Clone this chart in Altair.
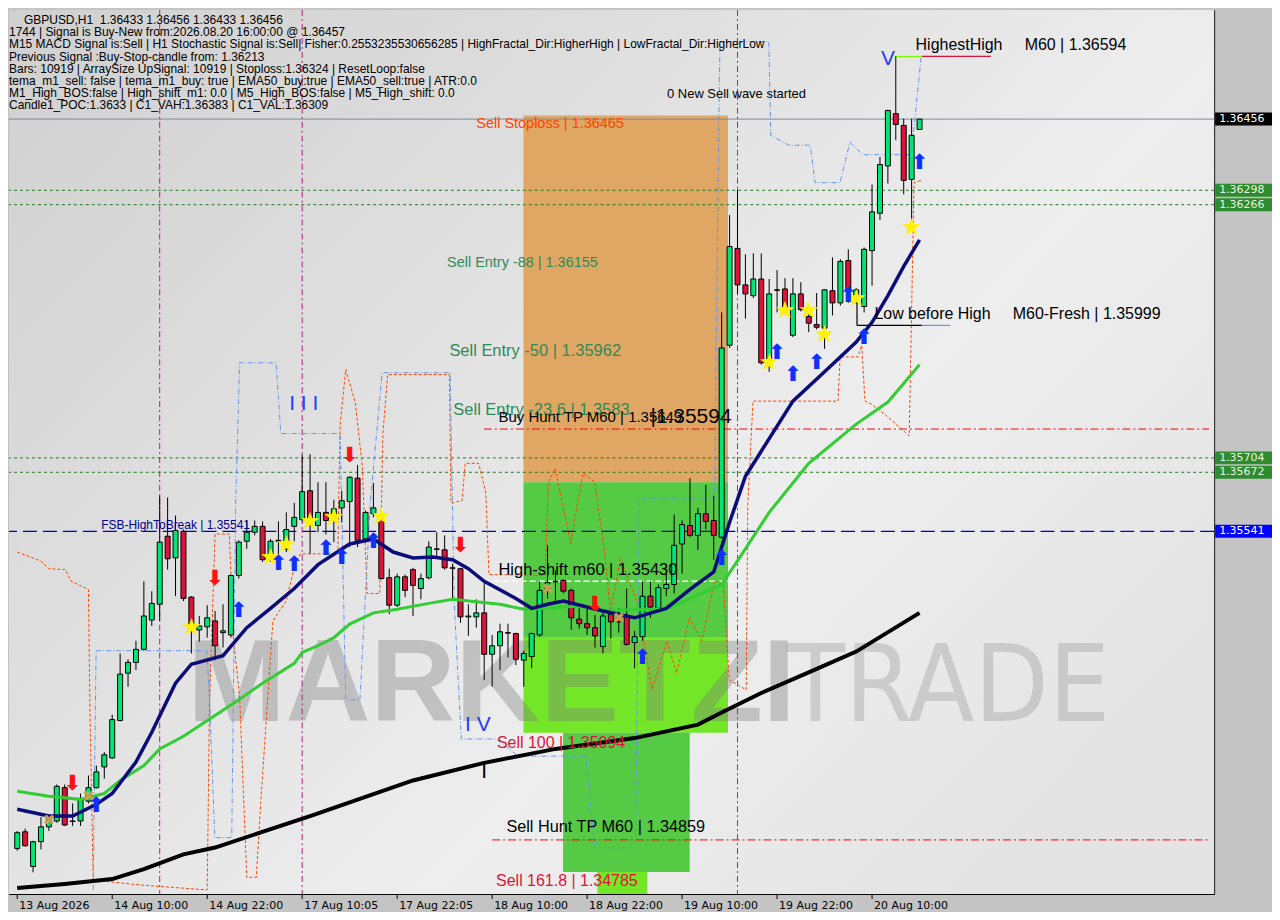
import altair as alt
import pandas as pd

W, H = 1208, 886
X_DOMAIN = [-0.41, 150.59]
Y_DOMAIN = [1.34736, 1.36698]
NB = "\u00a0"

# ---------------- H1 candles (index 0 = 13 Aug 22:00) ----------------
opens = [1.34837, 1.34874, 1.34797, 1.34852, 1.34885, 1.34898, 1.34972, 1.34898, 1.34898, 1.34942,
         1.34972, 1.35018, 1.35038, 1.35121, 1.35226, 1.35250, 1.35279, 1.35344, 1.35379, 1.35530,
         1.35482, 1.35541, 1.35395, 1.35322, 1.35329, 1.35342, 1.35316, 1.35311, 1.35443, 1.35519,
         1.35539, 1.35552, 1.35480, 1.35521, 1.35502, 1.35552, 1.35567, 1.35631, 1.35554, 1.35583,
         1.35576, 1.35593, 1.35607, 1.35659, 1.35524, 1.35580, 1.35572, 1.35438, 1.35377, 1.35440,
         1.35456, 1.35414, 1.35438, 1.35502, 1.35500, 1.35460, 1.35458, 1.35351, 1.35351, 1.35360,
         1.35268, 1.35287, 1.35316, 1.35314, 1.35255, 1.35263, 1.35311, 1.35414, 1.35430, 1.35432,
         1.35410, 1.35346, 1.35336, 1.35327, 1.35285, 1.35357, 1.35349, 1.35351, 1.35294, 1.35307,
         1.35397, 1.35370, 1.35414, 1.35423, 1.35513, 1.35554, 1.35532, 1.35580, 1.35565, 1.35528,
         1.35954, 1.36169, 1.36088, 1.36064, 1.36101, 1.35915, 1.36077, 1.36079, 1.35976, 1.36068,
         1.36018, 1.36000, 1.35992, 1.36075, 1.36048, 1.36142, 1.36057, 1.36040, 1.36164, 1.36247,
         1.36352, 1.36468, 1.36442, 1.36322, 1.36433]
highs = [1.34876, 1.34881, 1.34854, 1.34907, 1.34909, 1.34979, 1.34979, 1.34937, 1.34959, 1.34999,
         1.35021, 1.35051, 1.35134, 1.35270, 1.35257, 1.35298, 1.35430, 1.35408, 1.35620, 1.35616,
         1.35576, 1.35545, 1.35397, 1.35353, 1.35377, 1.35364, 1.35379, 1.35445, 1.35521, 1.35565,
         1.35565, 1.35563, 1.35524, 1.35563, 1.35583, 1.35604, 1.35712, 1.35712, 1.35650, 1.35650,
         1.35611, 1.35631, 1.35663, 1.35688, 1.35587, 1.35648, 1.35589, 1.35458, 1.35447, 1.35445,
         1.35460, 1.35447, 1.35519, 1.35539, 1.35532, 1.35469, 1.35460, 1.35379, 1.35390, 1.35430,
         1.35311, 1.35336, 1.35336, 1.35316, 1.35276, 1.35316, 1.35430, 1.35510, 1.35454, 1.35434,
         1.35414, 1.35370, 1.35373, 1.35355, 1.35360, 1.35360, 1.35370, 1.35414, 1.35320, 1.35430,
         1.35430, 1.35423, 1.35458, 1.35578, 1.35565, 1.35659, 1.35593, 1.35644, 1.35620, 1.36027,
         1.36243, 1.36300, 1.36156, 1.36158, 1.36158, 1.36101, 1.36121, 1.36103, 1.36103, 1.36094,
         1.36033, 1.36070, 1.36079, 1.36149, 1.36145, 1.36167, 1.36081, 1.36171, 1.36311, 1.36372,
         1.36477, 1.36595, 1.36457, 1.36457, 1.36456]
lows = [1.34832, 1.34841, 1.34784, 1.34835, 1.34876, 1.34894, 1.34887, 1.34887, 1.34887, 1.34937,
        1.34970, 1.34992, 1.35036, 1.35119, 1.35196, 1.35233, 1.35276, 1.35331, 1.35342, 1.35456,
        1.35397, 1.35386, 1.35270, 1.35296, 1.35305, 1.35255, 1.35283, 1.35305, 1.35436, 1.35502,
        1.35532, 1.35473, 1.35473, 1.35480, 1.35495, 1.35517, 1.35561, 1.35491, 1.35539, 1.35534,
        1.35517, 1.35561, 1.35506, 1.35506, 1.35517, 1.35572, 1.35434, 1.35357, 1.35373, 1.35395,
        1.35353, 1.35390, 1.35434, 1.35484, 1.35456, 1.35392, 1.35338, 1.35309, 1.35327, 1.35211,
        1.35196, 1.35233, 1.35261, 1.35244, 1.35196, 1.35237, 1.35307, 1.35392, 1.35381, 1.35403,
        1.35322, 1.35325, 1.35311, 1.35283, 1.35270, 1.35303, 1.35316, 1.35287, 1.35237, 1.35298,
        1.35349, 1.35364, 1.35397, 1.35403, 1.35447, 1.35528, 1.35500, 1.35545, 1.35478, 1.35524,
        1.35948, 1.36068, 1.36013, 1.36059, 1.35911, 1.35895, 1.36027, 1.36029, 1.35972, 1.36029,
        1.35983, 1.35989, 1.35946, 1.36020, 1.36042, 1.36048, 1.36046, 1.36027, 1.36086, 1.36232,
        1.36313, 1.36409, 1.36289, 1.36221, 1.36433]
closes = [1.34872, 1.34843, 1.34852, 1.34885, 1.34905, 1.34975, 1.34889, 1.34897, 1.34948, 1.34972,
          1.35007, 1.35045, 1.35123, 1.35224, 1.35250, 1.35279, 1.35353, 1.35381, 1.35517, 1.35480,
          1.35543, 1.35392, 1.35327, 1.35331, 1.35349, 1.35287, 1.35320, 1.35443, 1.35517, 1.35539,
          1.35552, 1.35478, 1.35519, 1.35519, 1.35545, 1.35572, 1.35629, 1.35563, 1.35583, 1.35565,
          1.35591, 1.35609, 1.35661, 1.35521, 1.35583, 1.35593, 1.35436, 1.35377, 1.35440, 1.35410,
          1.35421, 1.35436, 1.35506, 1.35501, 1.35460, 1.35459, 1.35351, 1.35353, 1.35360, 1.35268,
          1.35287, 1.35318, 1.35315, 1.35257, 1.35270, 1.35314, 1.35410, 1.35427, 1.35429, 1.35408,
          1.35349, 1.35336, 1.35327, 1.35309, 1.35353, 1.35340, 1.35340, 1.35290, 1.35307, 1.35397,
          1.35373, 1.35416, 1.35423, 1.35510, 1.35556, 1.35532, 1.35580, 1.35563, 1.35532, 1.35948,
          1.36173, 1.36088, 1.36068, 1.36101, 1.35915, 1.36068, 1.36076, 1.36033, 1.36068, 1.36033,
          1.36003, 1.35994, 1.36077, 1.36048, 1.36140, 1.36075, 1.36077, 1.36167, 1.36250, 1.36355,
          1.36475, 1.36444, 1.36320, 1.36420, 1.36456]

# ---------------- moving averages (bar index, price) ----------------
fast_idx = [0, 4, 7, 10, 12, 15, 17, 20, 22, 26, 29, 32, 35, 38, 42, 45, 47.5, 50, 52.5, 55,
            57, 59, 63, 65, 67, 69, 72, 74, 78, 82, 85, 88, 90, 92, 98, 102, 106, 108, 110, 112, 114]
fast_val = [1.34924, 1.34909, 1.34909, 1.34935, 1.34959, 1.35029, 1.35095, 1.35204, 1.35246, 1.35265,
            1.35327, 1.35370, 1.35414, 1.35467, 1.35513, 1.35524, 1.35495, 1.35482, 1.35484, 1.35478,
            1.35458, 1.35430, 1.35392, 1.35370, 1.35379, 1.35386, 1.35373, 1.35364, 1.35349, 1.35370,
            1.35412, 1.35451, 1.35561, 1.35663, 1.35830, 1.35895, 1.35961, 1.36005, 1.36064, 1.36129,
            1.36188]
ema50_idx = [0, 4, 8, 11, 13, 16, 18, 21, 28, 31, 35, 36, 38, 40, 42, 45, 48, 52, 55, 61,
             64, 67, 71, 74, 82, 89, 92, 95, 100, 106, 110, 114]
ema50_val = [1.34964, 1.34953, 1.34946, 1.34959, 1.34988, 1.35021, 1.35058, 1.35086, 1.35167, 1.35204,
             1.35248, 1.35272, 1.35287, 1.35305, 1.35335, 1.35360, 1.35368, 1.35381, 1.35390, 1.35379,
             1.35368, 1.35370, 1.35375, 1.35366, 1.35368, 1.35423, 1.35502, 1.35583, 1.35692, 1.35779,
             1.35828, 1.35911]
slow_idx = [0, 6, 12, 16, 21, 25, 37, 50, 59, 68, 78, 86, 89, 94, 100, 106, 114]
slow_val = [1.34749, 1.34758, 1.34769, 1.34791, 1.34824, 1.34839, 1.34909, 1.34988, 1.35027, 1.35058,
            1.35082, 1.35112, 1.35139, 1.35182, 1.35228, 1.35274, 1.35360]

# ---------------- channel traces ----------------
orange_i = [0, 3, 4, 6.1, 6.8, 9, 9.2, 9.6, 15.5, 24, 24.3, 25, 26.8, 27.3, 28.1, 29, 30.2, 30.8, 32.3, 33.95,
            35.2, 35.8, 40.5, 40.8, 41.5, 42.7, 43.6, 44.2, 45.8, 46.2, 46.8, 54.6, 54.8, 56.2, 56.6, 58.3, 59.2,
            59.6, 66.7, 67.1, 67.96, 69.2, 69.96, 70.5, 71.5, 72.96, 74.2, 74.96, 76.2, 78.3, 80.2, 82.1, 83.3,
            84.96, 86.5, 88.1, 89.2, 89.96, 92.1, 92.3, 92.96, 103.7, 103.96, 106.2, 106.7, 107.1, 107.96, 109.6,
            112.7, 113.3, 114.2]
orange_p = [1.35495, 1.35475, 1.35458, 1.35456, 1.35430, 1.35412, 1.35128, 1.34767, 1.34756, 1.34745,
            1.35167, 1.35535, 1.35535, 1.35305, 1.35174, 1.34773, 1.34773, 1.34948, 1.35342, 1.35386,
            1.35473, 1.35491, 1.35491, 1.35779, 1.35900, 1.35828, 1.35685, 1.35403, 1.35403, 1.35758,
            1.35889, 1.35889, 1.35604, 1.35609, 1.35692, 1.35692, 1.35626, 1.35445, 1.35443, 1.35648,
            1.35681, 1.35576, 1.35513, 1.35576, 1.35670, 1.35650, 1.35495, 1.35364, 1.35480, 1.35386,
            1.35189, 1.35298, 1.35226, 1.35349, 1.35298, 1.35430, 1.35430, 1.35211, 1.35189, 1.35604,
            1.35830, 1.35830, 1.35928, 1.35928, 1.35954, 1.35830, 1.35823, 1.35801, 1.35753, 1.36315,
            1.36320]
blue_i = [9.6, 9.96, 23.96, 24.3, 24.96, 27.1, 27.6, 28.1, 32.7, 33.3, 40.8, 41.5, 43.3, 44.6, 46.1, 54.7,
          55.2, 56.1, 60.5, 63.3, 71.8, 72.96, 78.1, 78.6, 88.1, 88.7, 88.8, 94.96, 95.2, 97.5, 100.2, 100.8,
          103.96, 105.2, 106.8, 112.96, 114.2]
blue_p = [1.34745, 1.35276, 1.35276, 1.35167, 1.34861, 1.34861, 1.35604, 1.35915, 1.35915, 1.35758,
          1.35758, 1.35167, 1.35167, 1.35604, 1.35893, 1.35893, 1.35386, 1.35080, 1.35080, 1.35042,
          1.35042, 1.34839, 1.34839, 1.35615, 1.35615, 1.36534, 1.36628, 1.36628, 1.36420, 1.36398,
          1.36398, 1.36315, 1.36315, 1.36405, 1.36377, 1.36377, 1.36595]

# ---------------- signals ----------------
down_i = [7, 25, 42, 56, 73]
down_p = [1.34981, 1.35434, 1.35709, 1.35508, 1.35377]
up_i = [10, 28, 33, 35, 39, 41, 45, 79, 89, 96, 98, 101, 105, 107, 114]
up_p = [1.34931, 1.35364, 1.35469, 1.35467, 1.35502, 1.35482, 1.35517, 1.35259, 1.35480, 1.35937,
        1.35889, 1.35915, 1.36064, 1.35970, 1.36359]
star_i = [22, 32, 34, 37, 40, 46, 95, 97, 100, 102, 106, 113]
star_p = [1.35327, 1.35482, 1.35510, 1.35561, 1.35570, 1.35572, 1.35915, 1.36029, 1.36029, 1.35976,
          1.36057, 1.36215]
cross_i = [4, 9, 67, 76]
cross_p = [1.34900, 1.34953, 1.35412, 1.35349]

# ---------------- zones ----------------
zone_i0 = [63.96, 63.96, 63.96, 68.96, 73.3]
zone_i1 = [89.8, 89.8, 89.8, 84.96, 79.6]
zone_p0 = [1.36464, 1.35650, 1.35305, 1.35094, 1.34785]
zone_p1 = [1.35650, 1.35305, 1.35094, 1.34785, 1.34736]
zone_col = ["#DFA25C", "#4CC83C", "#6EE61E", "#4CC83C", "#6EE61E"]

# ---------------- axis labels ----------------
x_tick_index = [0, 12, 24, 36, 48, 60, 72, 84, 96, 108]
x_tick_label = ["13 Aug 2026", "14 Aug 10:00", "14 Aug 22:00", "17 Aug 10:05", "17 Aug 22:05",
                "18 Aug 10:00", "18 Aug 22:00", "19 Aug 10:00", "19 Aug 22:00", "20 Aug 10:00"]
y_tick_values = [1.34780, 1.34890, 1.35000, 1.35110, 1.35220, 1.35330, 1.35440, 1.35550, 1.35660,
                 1.35770, 1.35880, 1.35990, 1.36100, 1.36210, 1.36320, 1.36430, 1.36540, 1.36650]

info_head = "GBPUSD,H1" + NB * 2 + "1.36433 1.36456 1.36433 1.36456"
info_lines = [
    "1744 | Signal is Buy-New from:2026.08.20 16:00:00 @ 1.36457",
    "M15 MACD Signal is:Sell | H1 Stochastic Signal is:Sell| Fisher:0.2553235530656285 | HighFractal_Dir:HigherHigh | LowFractal_Dir:HigherLow",
    "Previous Signal :Buy-Stop-candle from: 1.36213",
    "Bars: 10919 | ArraySize UpSignal: 10919 | Stoploss:1.36324 | ResetLoop:false",
    "tema_m1_sell: false | tema_m1_buy: true | EMA50_buy:true | EMA50_sell:true | ATR:0.0",
    "M1_High_BOS:false | High_shift_m1: 0.0 | M5_High_BOS:false | M5_High_shift: 0.0",
    "Candle1_POC:1.3633 | C1_VAH:1.36383 | C1_VAL:1.36309",
]

lab_text = ["Sell Stoploss | 1.36465", "Sell Entry -88 | 1.36155", "Sell Entry -50 | 1.35962",
            "Sell Entry -23.6 | 1.3583", "Buy Hunt TP M60 | 1.35649", "|1.35594", "0 New Sell wave started",
            "FSB-HighToBreak | 1.35541", "High-shift m60 | 1.35430", "Sell 100 | 1.35094",
            "Sell Hunt TP M60 | 1.34859", "Sell 161.8 | 1.34785",
            "HighestHigh" + NB * 5 + "M60 | 1.36594",
            "Low before High" + NB * 5 + "M60-Fresh | 1.35999"]
lab_i = [58.0, 54.3, 54.6, 55.1, 60.8, 80.0, 82.1, 10.6, 60.8, 60.6, 61.8, 60.5, 113.5, 108.3]
lab_p = [1.36446, 1.36136, 1.35941, 1.35810, 1.35795, 1.35795, 1.36512, 1.35556, 1.35456, 1.35070,
         1.34885, 1.34765, 1.36621, 1.36024]
lab_col = ["#FF4500", "#2E8B57", "#2E8B57", "#2E8B57", "#000000", "#000000", "#000000", "#00008B",
           "#000000", "#DC143C", "#000000", "#DC143C", "#000000", "#000000"]
lab_size = [14.5, 14.5, 16.5, 16.5, 15, 21, 13, 12, 16.5, 16, 16.3, 16, 16, 16]

wave_text = ["I I I", "I V", "V", "I"]
wave_i = [36.2, 58.2, 110.0, 59.0]
wave_p = [1.35823, 1.35110, 1.36589, 1.35007]
wave_col = ["#1E3CFF", "#1E3CFF", "#1E3CFF", "#000000"]

badge_p = [1.36456, 1.36298, 1.36266, 1.35704, 1.35672, 1.35541]
badge_fill = ["#000000", "#2E8B2E", "#2E8B2E", "#2E8B2E", "#2E8B2E", "#0000FF"]
badge_txt = ["#FFFFFF", "#E6F5E6", "#E6F5E6", "#E6F5E6", "#E6F5E6", "#FFFFFF"]

# ---------------- chart construction ----------------
xs = alt.Scale(domain=X_DOMAIN, nice=False, zero=False)
ys = alt.Scale(domain=Y_DOMAIN, nice=False, zero=False)

y_axis = alt.Axis(values=y_tick_values, format=".5f", orient="right", tickSize=4, grid=False, title=None,
                  labelFont="DejaVu Sans", labelFontSize=11, labelColor="#000022",
                  domainColor="#000000", tickColor="#000000", labelOverlap=False, labelFlush=False,
                  labelPadding=5)


def xq(f):
    return alt.X(f"{f}:Q", scale=xs, axis=None)


def yq(f, axis=None):
    return alt.Y(f"{f}:Q", scale=ys, axis=axis)


layers = []

# background gradient
bg = alt.Chart(pd.DataFrame({"a": [0]})).mark_rect(
    fill=alt.LinearGradient(gradient="linear", x1=0, y1=0, x2=1, y2=0.7,
                            stops=[alt.GradientStop(color="#d0d0d0", offset=0),
                                   alt.GradientStop(color="#dedede", offset=0.35),
                                   alt.GradientStop(color="#eeeeee", offset=0.7),
                                   alt.GradientStop(color="#e4e4e4", offset=1)])
).encode(x=alt.value(0), x2=alt.value(W), y=alt.value(0), y2=alt.value(H))
layers.append(bg)

# zones
zones = pd.DataFrame({"i0": zone_i0, "i1": zone_i1, "p0": zone_p0, "p1": zone_p1, "col": zone_col})
layers.append(alt.Chart(zones).mark_rect(opacity=0.95).encode(
    x=xq("i0"), x2="i1:Q", y=yq("p0"), y2="p1:Q", color=alt.Color("col:N", scale=None)))

# watermark
wm = pd.DataFrame({"t": ["MARKETZI"], "i": [21.5], "p": [1.35119]})
layers.append(alt.Chart(wm).mark_text(align="left", baseline="alphabetic", font="Liberation Sans",
                                      fontWeight="bold", fontSize=118, color="#7a7a7a", opacity=0.36).encode(
    x=xq("i"), y=yq("p"), text="t:N"))
wm2 = pd.DataFrame({"t": ["TRADE"], "i": [97.1], "p": [1.35119]})
layers.append(alt.Chart(wm2).mark_text(align="left", baseline="alphabetic", font="DejaVu Sans Condensed",
                                       fontSize=108, color="#a8a8a8", opacity=0.45).encode(
    x=xq("i"), y=yq("p"), text="t:N"))

# horizontal price levels
layers.append(alt.Chart(pd.DataFrame({"p": [1.36456]})).mark_rule(color="#7B8A9A", strokeWidth=1).encode(y=yq("p")))
layers.append(alt.Chart(pd.DataFrame({"p": [1.36298, 1.36266, 1.35704, 1.35672]})).mark_rule(
    color="#1F7A1F", strokeWidth=1, strokeDash=[3, 3]).encode(y=yq("p")))
layers.append(alt.Chart(pd.DataFrame({"p": [1.35541]})).mark_rule(
    color="#0000C8", strokeWidth=1.2, strokeDash=[14, 6]).encode(y=yq("p")))
layers.append(alt.Chart(pd.DataFrame({"p": [1.35768, 1.34856], "i0": [58.96, 60.0], "i1": [X_DOMAIN[1]] * 2})).mark_rule(
    color="#FF0000", strokeWidth=1, strokeDash=[8, 3, 2, 3]).encode(x=xq("i0"), x2="i1:Q", y=yq("p")))
layers.append(alt.Chart(pd.DataFrame({"p": [1.35430], "i0": [60.2], "i1": [91.2]})).mark_rule(
    color="#FFFFFF", strokeWidth=1.5, strokeDash=[6, 3]).encode(x=xq("i0"), x2="i1:Q", y=yq("p")))
layers.append(alt.Chart(pd.DataFrame({"i": [18, 36, 91]})).mark_rule(
    color="#C71585", strokeWidth=1, strokeDash=[6, 3, 2, 3]).encode(x=xq("i")))

# channel traces
odf = pd.DataFrame({"i": orange_i, "p": orange_p, "k": range(len(orange_i))})
layers.append(alt.Chart(odf).mark_line(color="#FF4500", strokeWidth=1, strokeDash=[3, 2]).encode(
    x=xq("i"), y=yq("p"), order="k:Q"))
bdf = pd.DataFrame({"i": blue_i, "p": blue_p, "k": range(len(blue_i))})
layers.append(alt.Chart(bdf).mark_line(color="#6495ED", strokeWidth=1, strokeDash=[5, 2, 1, 2]).encode(
    x=xq("i"), y=yq("p"), order="k:Q"))

# swing segments
seg = pd.DataFrame({"i0": [110.8, 114.3, 106.1, 106.1, 114.3],
                    "i1": [114.3, 123.0, 106.1, 114.3, 117.9],
                    "p0": [1.36595, 1.36595, 1.36071, 1.35998, 1.35998],
                    "p1": [1.36595, 1.36595, 1.35998, 1.35998, 1.35998],
                    "col": ["#7CFC00", "#DC143C", "#000000", "#000000", "#6495ED"]})
layers.append(alt.Chart(seg).mark_rule(strokeWidth=1.2).encode(
    x=xq("i0"), x2="i1:Q", y=yq("p0"), y2="p1:Q", color=alt.Color("col:N", scale=None)))

# candles
bars = pd.DataFrame({"i": list(range(len(opens))), "o": opens, "h": highs, "l": lows, "c": closes})
bars["col"] = ["#00E676" if c >= o else "#DC143C" for o, c in zip(opens, closes)]
layers.append(alt.Chart(bars).mark_rule(color="#000000", strokeWidth=1).encode(
    x=xq("i"), y=yq("l", y_axis), y2="h:Q"))
layers.append(alt.Chart(bars).mark_bar(size=5, stroke="#000000", strokeWidth=1).encode(
    x=xq("i"), y=yq("o"), y2="c:Q", color=alt.Color("col:N", scale=None)))

# moving averages
layers.append(alt.Chart(pd.DataFrame({"i": slow_idx, "p": slow_val})).mark_line(
    color="#000000", strokeWidth=4).encode(x=xq("i"), y=yq("p")))
layers.append(alt.Chart(pd.DataFrame({"i": ema50_idx, "p": ema50_val})).mark_line(
    color="#32CD32", strokeWidth=3).encode(x=xq("i"), y=yq("p")))
layers.append(alt.Chart(pd.DataFrame({"i": fast_idx, "p": fast_val})).mark_line(
    color="#0B0B7A", strokeWidth=3.5).encode(x=xq("i"), y=yq("p")))

# signal symbols
layers.append(alt.Chart(pd.DataFrame({"i": cross_i, "p": cross_p})).mark_text(
    text="✖", fontSize=15, color="#C8A050", font="DejaVu Sans").encode(x=xq("i"), y=yq("p")))
layers.append(alt.Chart(pd.DataFrame({"i": star_i, "p": star_p})).mark_text(
    text="★", fontSize=24, color="#FFF200", font="DejaVu Sans").encode(x=xq("i"), y=yq("p")))
layers.append(alt.Chart(pd.DataFrame({"i": up_i, "p": up_p})).mark_text(
    text="⬆", fontSize=21, fontWeight="bold", color="#1030FF", font="DejaVu Sans").encode(x=xq("i"), y=yq("p")))
layers.append(alt.Chart(pd.DataFrame({"i": down_i, "p": down_p})).mark_text(
    text="⬇", fontSize=21, fontWeight="bold", color="#FF1010", font="DejaVu Sans").encode(x=xq("i"), y=yq("p")))

# wave labels
wdf = pd.DataFrame({"t": wave_text, "i": wave_i, "p": wave_p, "col": wave_col})
layers.append(alt.Chart(wdf).mark_text(align="center", baseline="middle", fontSize=21,
                                       font="Liberation Sans").encode(
    x=xq("i"), y=yq("p"), text="t:N", color=alt.Color("col:N", scale=None)))

# level labels
ldf = pd.DataFrame({"t": lab_text, "i": lab_i, "p": lab_p, "col": lab_col, "fs": lab_size})
layers.append(alt.Chart(ldf).mark_text(align="left", baseline="middle", font="Liberation Sans").encode(
    x=xq("i"), y=yq("p"), text="t:N", color=alt.Color("col:N", scale=None),
    size=alt.Size("fs:Q", scale=None)))

# info block
layers.append(alt.Chart(pd.DataFrame({"a": [0]})).mark_text(
    align="left", baseline="top", font="Liberation Sans", fontSize=12, color="#000000"
).encode(x=alt.value(15), y=alt.value(5), text=alt.value(info_head)))
layers.append(alt.Chart(pd.DataFrame({"a": [0]})).mark_text(
    align="left", baseline="top", font="Liberation Sans", fontSize=12, lineHeight=12.2, color="#000000"
).encode(x=alt.value(0), y=alt.value(17.2), text=alt.value(info_lines)))

# time axis (labels start at the tick, as on the terminal)
tdf = pd.DataFrame({"i": x_tick_index, "t": x_tick_label})
layers.append(alt.Chart(tdf).mark_rule(color="#000000", strokeWidth=1).encode(
    x=xq("i"), y=alt.value(H), y2=alt.value(H + 5)))
layers.append(alt.Chart(tdf).mark_text(align="left", baseline="top", font="DejaVu Sans", fontSize=11,
                                       dx=2, color="#000000").encode(
    x=xq("i"), y=alt.value(H + 6), text="t:N"))

# price badges on the axis
half = 6.5 * (Y_DOMAIN[1] - Y_DOMAIN[0]) / H
badges = pd.DataFrame({"p": badge_p, "fill": badge_fill, "tc": badge_txt,
                       "t": [f"{v:.5f}" for v in badge_p]})
badges["top"] = badges["p"] + half
badges["bot"] = badges["p"] - half
layers.append(alt.Chart(badges).mark_rect().encode(
    x=alt.value(W + 1), x2=alt.value(W + 58), y=yq("top"), y2="bot:Q",
    color=alt.Color("fill:N", scale=None)))
layers.append(alt.Chart(badges).mark_text(align="left", baseline="middle", font="DejaVu Sans",
                                          fontSize=11).encode(
    x=alt.value(W + 5), y=yq("p"), text="t:N", color=alt.Color("tc:N", scale=None)))

chart = alt.layer(*layers).properties(
    width=W, height=H, padding={"left": 0, "top": 0, "right": 0, "bottom": 0}
).configure(background="#c4c4c4").configure_view(stroke="#000000", strokeWidth=1)

chart.save("out.html", embed_options={"renderer": "svg", "actions": False})
